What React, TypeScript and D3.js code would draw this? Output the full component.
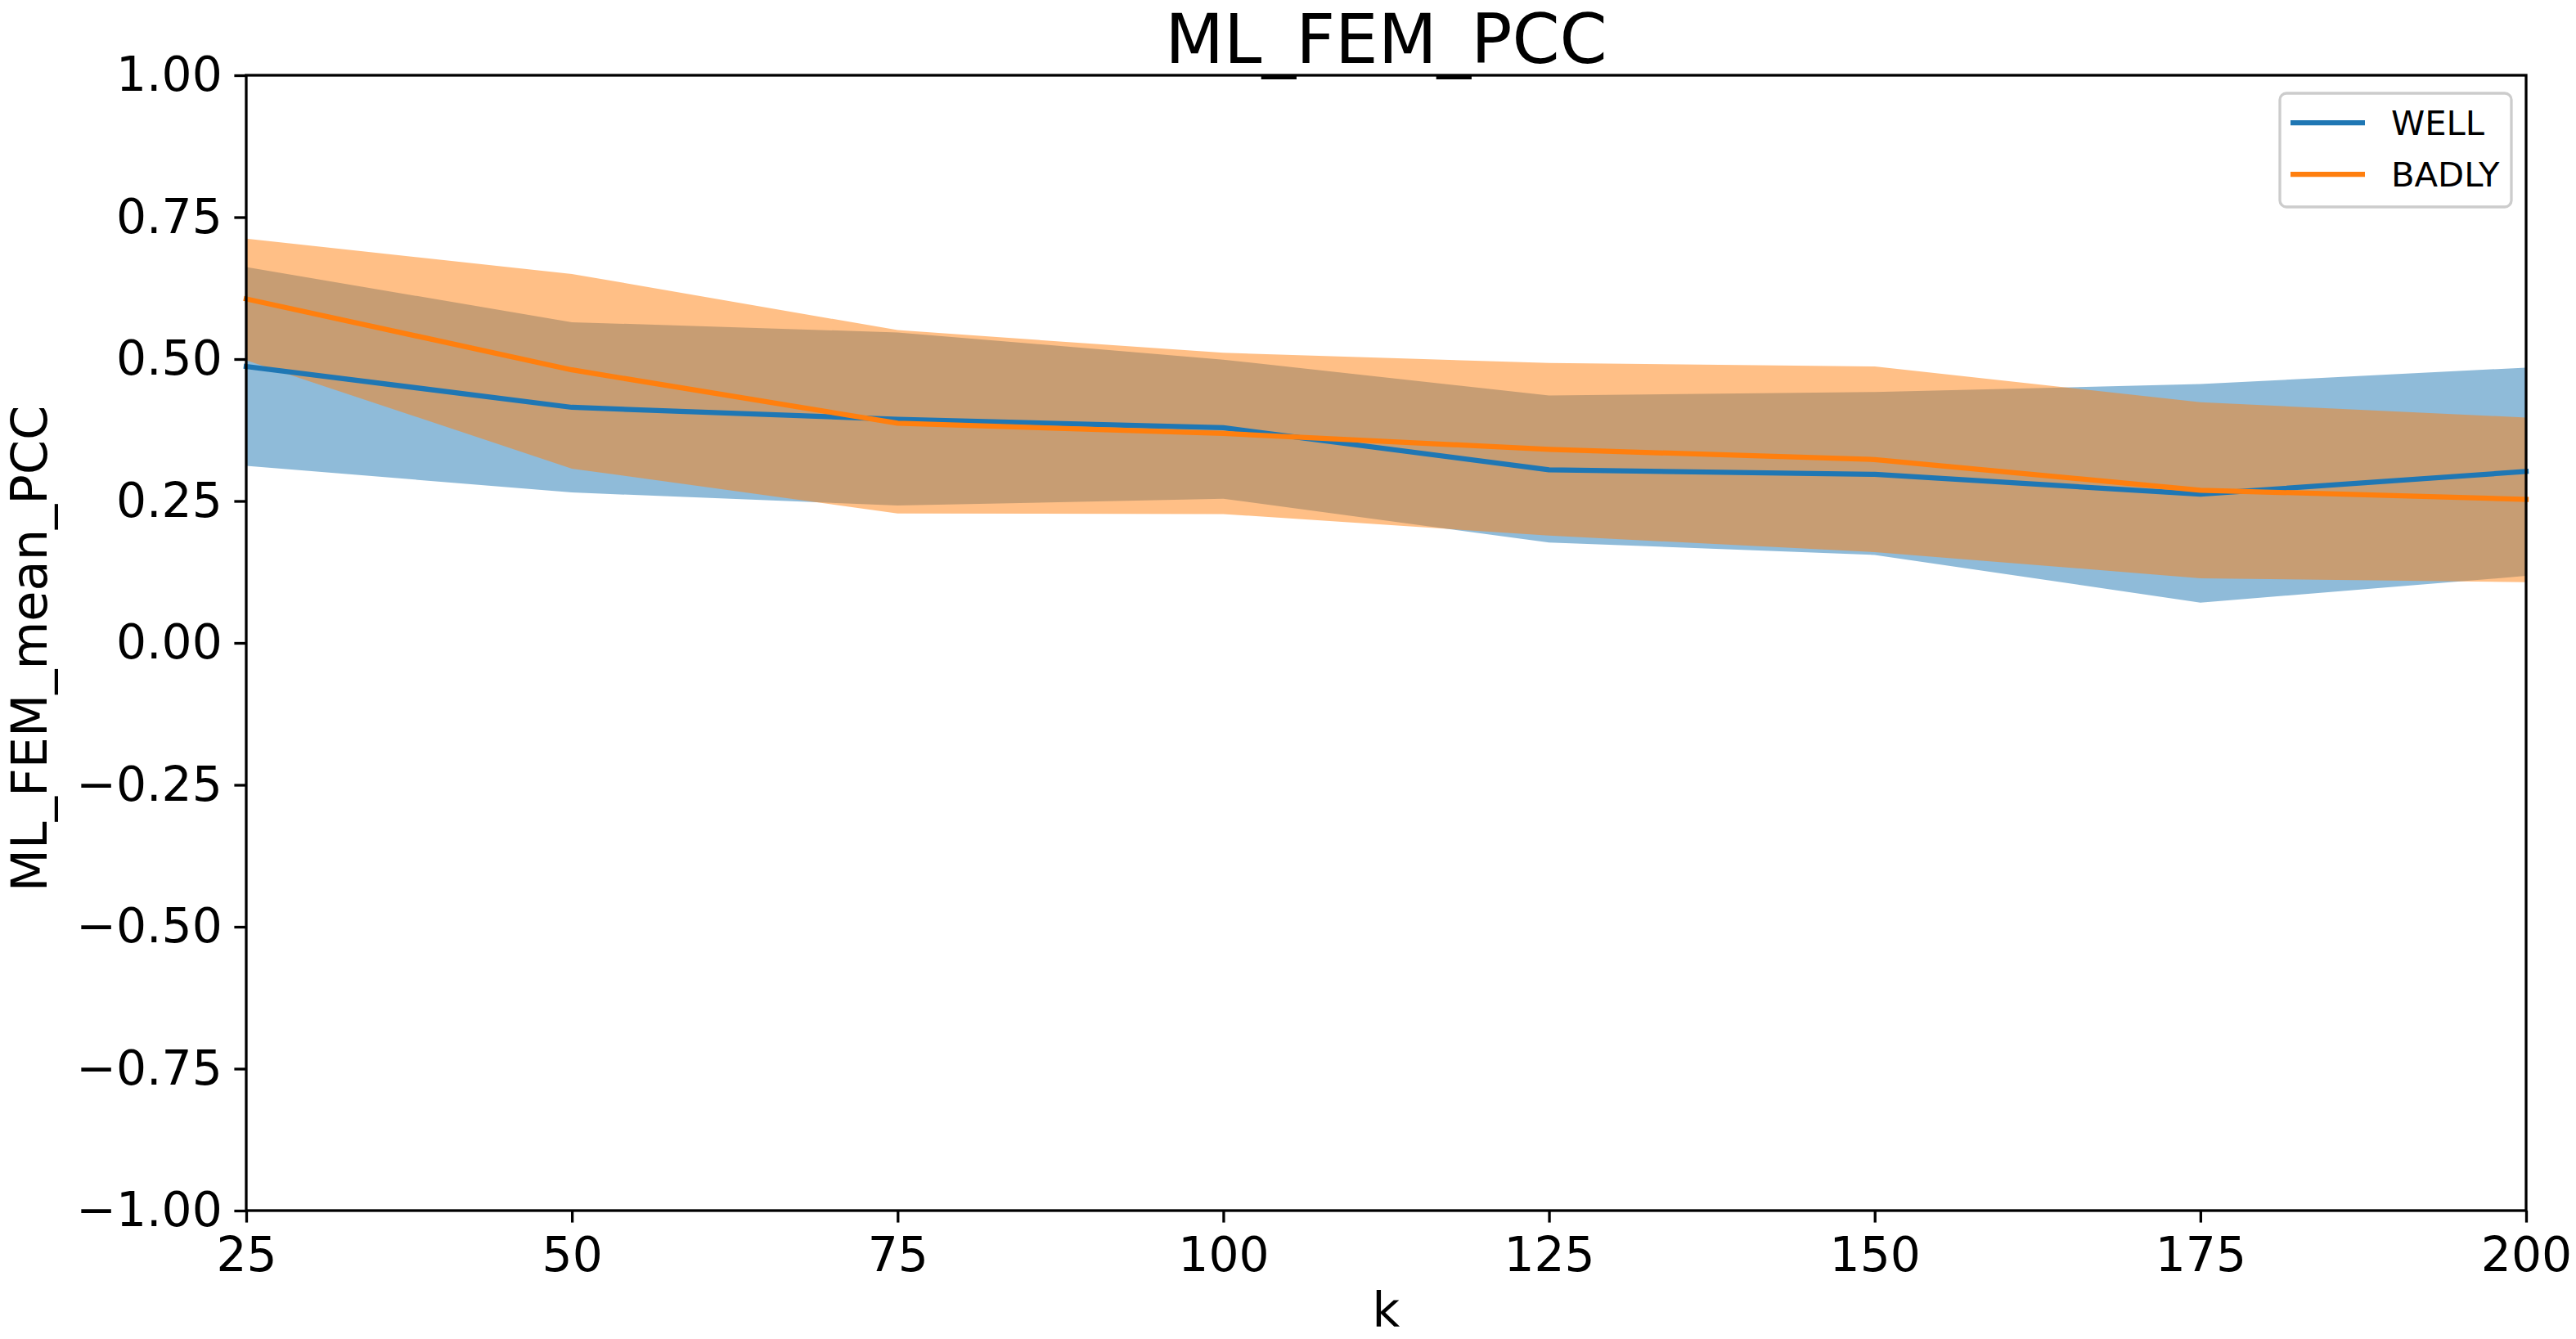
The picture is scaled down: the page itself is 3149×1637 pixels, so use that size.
import * as d3 from "d3";
import { useEffect, useRef } from "react";

const kValues = [25, 50, 75, 100, 125, 150, 175, 200];

const wellMean = [0.487, 0.415, 0.394, 0.379, 0.305, 0.297, 0.262, 0.302];
const wellLow = [0.312, 0.265, 0.242, 0.254, 0.177, 0.155, 0.071, 0.118];
const wellHigh = [0.662, 0.565, 0.547, 0.499, 0.436, 0.442, 0.456, 0.485];

const badlyMean = [0.606, 0.481, 0.387, 0.369, 0.341, 0.323, 0.269, 0.253];
const badlyLow = [0.498, 0.307, 0.228, 0.227, 0.189, 0.16, 0.114, 0.107];
const badlyHigh = [0.712, 0.65, 0.551, 0.511, 0.493, 0.487, 0.424, 0.397];

const yTicks = [-1, -0.75, -0.5, -0.25, 0, 0.25, 0.5, 0.75, 1];
const seriesNames = ["WELL", "BADLY"];

function LineChartFc(container: HTMLElement): void {
  const width = 3149;
  const height = 1637;
  const marginTop = 92;
  const marginBottom = 157;
  const marginLeft = 301;
  const marginRight = 61;
  const font = "'DejaVu Sans', sans-serif";
  const tickSize = 14.6;
  const tickPad = 14.6;

  const svg = d3.select(container)
    .append("svg")
    .attr("width", width)
    .attr("height", height)
    .attr("viewBox", [0, 0, width, height].join(" "))
    .style("display", "block")
    .style("background", "#fff");

  const xScale = d3.scaleLinear([25, 200], [marginLeft, width - marginRight]);
  const yScale = d3.scaleLinear([-1, 1], [height - marginBottom, marginTop]);

  const series = [
    { name: seriesNames[0], color: "#1f77b4", mean: wellMean, low: wellLow, high: wellHigh },
    { name: seriesNames[1], color: "#ff7f0e", mean: badlyMean, low: badlyLow, high: badlyHigh },
  ];
  const idx = kValues.map((_, i) => i);

  // bands
  series.forEach(s => {
    const area = d3.area<number>()
      .x(i => xScale(kValues[i]))
      .y0(i => yScale(s.low[i]))
      .y1(i => yScale(s.high[i]));
    svg.append("path")
      .attr("d", area(idx))
      .attr("fill", s.color)
      .attr("fill-opacity", 0.5);
  });

  // lines
  series.forEach(s => {
    const line = d3.line<number>()
      .x(i => xScale(kValues[i]))
      .y(i => yScale(s.mean[i]));
    svg.append("path")
      .attr("d", line(idx))
      .attr("fill", "none")
      .attr("stroke", s.color)
      .attr("stroke-width", 6.25)
      .attr("stroke-linejoin", "round")
      .attr("stroke-linecap", "square");
  });

  // axes
  const fmt = d3.format(".2f");
  const xAxis = svg.append("g")
    .attr("transform", `translate(0, ${height - marginBottom})`)
    .call(d3.axisBottom(xScale).tickValues(kValues).tickSize(tickSize).tickPadding(tickPad).tickSizeOuter(0).tickFormat(d => String(d)));
  const yAxis = svg.append("g")
    .attr("transform", `translate(${marginLeft}, 0)`)
    .call(d3.axisLeft(yScale).tickValues(yTicks).tickSize(tickSize).tickPadding(tickPad).tickSizeOuter(0).tickFormat(d => fmt(d as number)));
  [xAxis, yAxis].forEach(g => {
    g.select(".domain").remove();
    g.attr("font-size", 58.3).attr("font-family", font);
    g.selectAll("line").attr("stroke", "#000").attr("stroke-width", 3.3);
    g.selectAll("text").attr("fill", "#000");
  });
  xAxis.selectAll("text").attr("dy", "0.76em");

  // spines
  svg.append("rect")
    .attr("x", marginLeft)
    .attr("y", marginTop)
    .attr("width", width - marginLeft - marginRight)
    .attr("height", height - marginTop - marginBottom)
    .attr("fill", "none")
    .attr("stroke", "#000")
    .attr("stroke-width", 3.3);

  // title and labels
  svg.append("text")
    .attr("x", (marginLeft + width - marginRight) / 2)
    .attr("y", 77)
    .attr("text-anchor", "middle")
    .attr("font-family", font)
    .attr("font-size", 83.3)
    .text("ML_FEM_PCC");

  svg.append("text")
    .attr("x", (marginLeft + width - marginRight) / 2)
    .attr("y", 1622)
    .attr("text-anchor", "middle")
    .attr("font-family", font)
    .attr("font-size", 58.3)
    .text("k");

  svg.append("text")
    .attr("transform", `translate(57, 793) rotate(-90)`)
    .attr("text-anchor", "middle")
    .attr("font-family", font)
    .attr("font-size", 60.5)
    .text("ML_FEM_mean_PCC");

  // legend
  const legend = svg.append("g").attr("transform", "translate(2787, 114)");
  legend.append("rect")
    .attr("width", 283)
    .attr("height", 139)
    .attr("rx", 8)
    .attr("fill", "#fff")
    .attr("fill-opacity", 0.8)
    .attr("stroke", "#cccccc")
    .attr("stroke-width", 3.3);
  series.forEach((s, i) => {
    const y = 36 + i * 63;
    legend.append("line")
      .attr("x1", 13).attr("x2", 104)
      .attr("y1", y).attr("y2", y)
      .attr("stroke", s.color)
      .attr("stroke-width", 6.25);
    legend.append("text")
      .attr("x", 136)
      .attr("y", y)
      .attr("dy", "0.36em")
      .attr("font-family", font)
      .attr("font-size", 41.7)
      .text(s.name);
  });
}

export default function App() {
  const domRef = useRef<HTMLDivElement>(null);
  useEffect(() => {
    if (domRef.current) {
      LineChartFc(domRef.current);
    }
    return () => {
      if (domRef.current) {
        d3.select(domRef.current).selectAll("svg").remove();
      }
    };
  }, [domRef]);
  return (
    <>
      <style>{"body{margin:0}"}</style>
      <div ref={domRef}></div>
    </>
  );
}
